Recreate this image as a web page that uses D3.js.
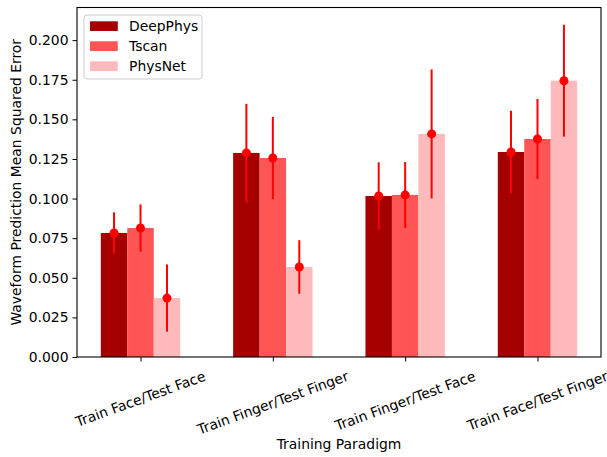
<!DOCTYPE html>
<html>
<head>
  <meta charset="UTF-8">
  <script src="https://d3js.org/d3.v7.min.js"></script>
  <style>
    body { margin: 0; background: #fff; }
    text { font-family: "DejaVu Sans", sans-serif; }
  </style>
</head>
<body>
  <svg></svg>
</body>
<script>
  // values
  let categories = ["Train Face/Test Face", "Train Finger/Test Finger", "Train Finger/Test Face", "Train Face/Test Finger"];
  let seriesNames = ["DeepPhys", "Tscan", "PhysNet"];
  let deepPhys = [0.0783, 0.1288, 0.1016, 0.1294];
  let tscan = [0.0814, 0.1256, 0.1023, 0.1376];
  let physNet = [0.0372, 0.0568, 0.1408, 0.1744];
  let deepPhysErr = [0.0130, 0.0310, 0.0213, 0.0260];
  let tscanErr = [0.0149, 0.0260, 0.0208, 0.0253];
  let physNetErr = [0.0212, 0.0169, 0.0407, 0.0353];
  let yTicks = [0, 0.025, 0.05, 0.075, 0.1, 0.125, 0.15, 0.175, 0.2];

  let colors = ["#a50000", "#ff5555", "#ffbbbb"];
  let values = [deepPhys, tscan, physNet];
  let errors = [deepPhysErr, tscanErr, physNetErr];

  let width = 607, height = 457;
  let plotLeft = 77, plotRight = 601, plotTop = 7.5, plotBottom = 357;
  let barW = 0.2;

  let svg = d3.select("svg")
    .attr("width", width)
    .attr("height", height);

  let x = d3.scaleLinear().domain([-0.48, 3.48]).range([plotLeft, plotRight]);
  let y = d3.scaleLinear().domain([0, 0.2206]).range([plotBottom, plotTop]);

  let rows = [];
  values.forEach((vals, s) => {
    vals.forEach((v, i) => {
      rows.push({ s: s, i: i, v: v, e: errors[s][i] });
    });
  });

  // bars
  svg.append("g")
    .selectAll("rect")
    .data(rows)
    .enter()
    .append("rect")
    .attr("x", d => x(d.i + (d.s - 1) * barW - barW / 2))
    .attr("width", x(barW) - x(0))
    .attr("y", d => y(d.v))
    .attr("height", d => y(0) - y(d.v))
    .attr("fill", d => colors[d.s]);

  // error bars + markers
  let err = svg.append("g");
  err.selectAll("line")
    .data(rows)
    .enter()
    .append("line")
    .attr("x1", d => x(d.i + (d.s - 1) * barW))
    .attr("x2", d => x(d.i + (d.s - 1) * barW))
    .attr("y1", d => y(d.v - d.e))
    .attr("y2", d => y(d.v + d.e))
    .attr("stroke", "#ff0000")
    .attr("stroke-width", 2);
  err.selectAll("circle")
    .data(rows)
    .enter()
    .append("circle")
    .attr("cx", d => x(d.i + (d.s - 1) * barW))
    .attr("cy", d => y(d.v))
    .attr("r", 4.5)
    .attr("fill", "#ff0000");

  // y axis
  let yAxis = svg.append("g")
    .attr("transform", "translate(" + plotLeft + ",0)")
    .call(d3.axisLeft(y).tickValues(yTicks).tickFormat(d3.format(".3f")).tickSize(4.5).tickPadding(4));
  yAxis.select(".domain").remove();
  yAxis.selectAll("text").style("font-size", "13.9px").attr("fill", "#000").attr("font-family", "DejaVu Sans");
  yAxis.selectAll("line").attr("stroke", "#000");

  // x axis ticks
  let xAxis = svg.append("g")
    .attr("transform", "translate(0," + plotBottom + ")")
    .call(d3.axisBottom(x).tickValues(d3.range(categories.length)).tickSize(4.5).tickFormat(""));
  xAxis.select(".domain").remove();
  xAxis.selectAll("line").attr("stroke", "#000");

  // rotated category labels, bbox centred on tick
  let labelTop = 368;
  let a = 20 * Math.PI / 180;
  categories.forEach((c, i) => {
    let t = svg.append("text")
      .text(c)
      .attr("text-anchor", "middle")
      .attr("dy", "0.35em")
      .style("font-size", "13.9px");
    let w = t.node().getComputedTextLength();
    let h = 16;
    let H = w * Math.sin(a) + h * Math.cos(a);
    t.attr("transform", "translate(" + x(i) + "," + (labelTop + H / 2) + ") rotate(-20)");
  });

  // frame
  svg.append("rect")
    .attr("x", plotLeft)
    .attr("y", plotTop)
    .attr("width", plotRight - plotLeft)
    .attr("height", plotBottom - plotTop)
    .attr("fill", "none")
    .attr("stroke", "#000")
    .attr("stroke-width", 1.1);

  // axis titles
  svg.append("text")
    .attr("x", (plotLeft + plotRight) / 2)
    .attr("y", 449)
    .attr("text-anchor", "middle")
    .style("font-size", "13.9px")
    .text("Training Paradigm");
  svg.append("text")
    .attr("transform", "translate(21," + (plotTop + plotBottom) / 2 + ") rotate(-90)")
    .attr("text-anchor", "middle")
    .style("font-size", "13.9px")
    .text("Waveform Prediction Mean Squared Error");

  // legend
  let legend = svg.append("g");
  legend.append("rect")
    .attr("x", 84)
    .attr("y", 15)
    .attr("width", 118)
    .attr("height", 64)
    .attr("rx", 3)
    .attr("fill", "#fff")
    .attr("fill-opacity", 0.8)
    .attr("stroke", "#cccccc");
  seriesNames.forEach((n, s) => {
    let cy = 26.3 + s * 20;
    legend.append("rect")
      .attr("x", 90)
      .attr("y", cy - 5)
      .attr("width", 27.8)
      .attr("height", 9.7)
      .attr("fill", colors[s]);
    legend.append("text")
      .attr("x", 129)
      .attr("y", cy)
      .attr("dy", "0.35em")
      .style("font-size", "13.9px")
      .text(n);
  });
</script>
</html>
